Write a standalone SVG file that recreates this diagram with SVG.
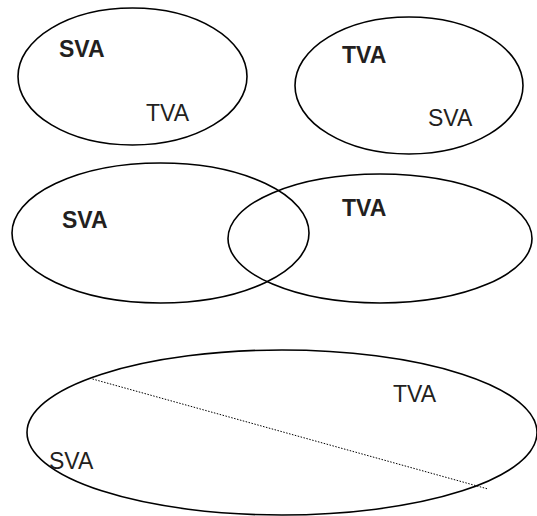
<svg xmlns="http://www.w3.org/2000/svg" width="537" height="516" viewBox="0 0 537 516">
<style>
.e{fill:none;stroke:#000;stroke-width:1.6}
.t{font-family:"Liberation Sans",Arial,sans-serif;font-size:23px;fill:#231f20}
.b{font-weight:bold}
.d{stroke:#000;stroke-width:1;stroke-dasharray:1.5,1.5;fill:none}
</style>
<rect width="537" height="516" fill="#fff"/>
<g id="set1">
<ellipse class="e" cx="132.5" cy="76.5" rx="114.5" ry="68.5"/>
<text class="t b" x="59" y="57">SVA</text>
<text class="t" x="146" y="121">TVA</text>
</g>
<g id="set2">
<ellipse class="e" cx="409" cy="85.5" rx="114" ry="68.5"/>
<text class="t b" x="342" y="63">TVA</text>
<text class="t" x="428" y="126">SVA</text>
</g>
<g id="set3">
<ellipse class="e" cx="160.5" cy="233" rx="148.5" ry="70"/>
<text class="t b" x="62" y="228">SVA</text>
</g>
<g id="set4">
<ellipse class="e" cx="380" cy="238.5" rx="152" ry="64.5"/>
<text class="t b" x="342" y="216">TVA</text>
</g>
<g id="set5">
<ellipse class="e" cx="282" cy="432.5" rx="255" ry="82.5"/>
<text class="t" x="393" y="402">TVA</text>
<text class="t" x="49" y="469">SVA</text>
</g>
<g id="connectors">
<line class="d" x1="92.5" y1="379" x2="488" y2="489"/>
</g>
</svg>
